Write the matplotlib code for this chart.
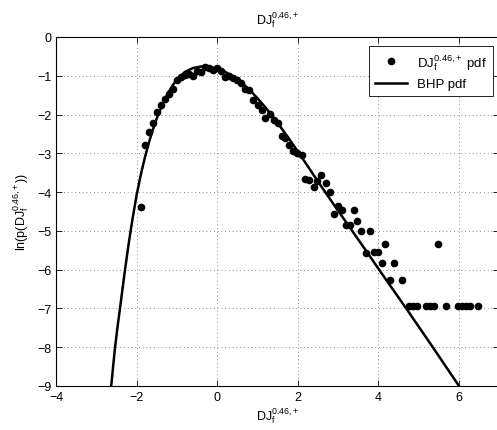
import matplotlib
matplotlib.use("Agg")
import matplotlib.pyplot as plt

# empirical pdf points (log)
dj_x = [-1.89, -1.79, -1.70, -1.60, -1.49, -1.40, -1.30, -1.19, -1.10, -1.00,
        -0.90, -0.79, -0.69, -0.59, -0.49, -0.40, -0.30, -0.20, -0.10, 0.00,
        0.10, 0.20, 0.30, 0.40, 0.50, 0.59, 0.70, 0.80, 0.90, 1.00,
        1.10, 1.19, 1.30, 1.40, 1.50, 1.60, 1.69, 1.79, 1.89, 1.99,
        2.10, 2.18, 2.29, 2.39, 2.48, 2.58, 2.69, 2.80, 2.90, 2.99,
        3.09, 3.19, 3.29, 3.39, 3.48, 3.58, 3.69, 3.78, 3.88, 3.98,
        4.08, 4.17, 4.28, 4.38, 4.58, 4.77, 4.87, 4.97, 5.17, 5.27,
        5.37, 5.47, 5.67, 5.97, 6.07, 6.17, 6.27, 6.47]
dj_lnp = [-4.38, -2.78, -2.45, -2.23, -1.94, -1.76, -1.59, -1.47, -1.33, -1.11,
          -1.03, -0.99, -0.95, -1.01, -0.87, -0.90, -0.78, -0.80, -0.86, -0.80,
          -0.87, -1.04, -1.00, -1.05, -1.12, -1.18, -1.33, -1.37, -1.62, -1.75,
          -1.88, -2.08, -1.98, -2.15, -2.22, -2.55, -2.61, -2.78, -2.95, -2.98,
          -3.04, -3.65, -3.70, -3.87, -3.72, -3.57, -3.77, -4.00, -4.56, -4.37,
          -4.45, -4.86, -4.86, -4.46, -4.75, -4.99, -5.57, -4.99, -5.55, -5.55,
          -5.84, -5.34, -6.26, -5.84, -6.26, -6.94, -6.94, -6.94, -6.94, -6.94,
          -6.94, -5.34, -6.94, -6.94, -6.94, -6.94, -6.94, -6.94]

# BHP curve
bhp_x = [-2.70, -2.63, -2.54, -2.47, -2.40, -2.30, -2.20, -2.10, -2.00, -1.90,
         -1.80, -1.70, -1.60, -1.50, -1.40, -1.30, -1.20, -1.10, -1.00, -0.80,
         -0.60, -0.40, -0.20, 0.00, 0.20, 0.40, 0.60, 0.80, 1.00, 1.20,
         1.40, 1.60, 1.80, 2.00, 2.20, 2.40, 2.70, 3.00, 3.37, 3.70,
         4.03, 4.36, 4.69, 5.35, 6.00, 6.10]
bhp_lnp = [-9.75, -9.00, -8.05, -7.45, -6.90, -6.10, -5.35, -4.68, -4.08, -3.57,
           -3.13, -2.74, -2.40, -2.10, -1.84, -1.61, -1.41, -1.24, -1.10, -0.90,
           -0.80, -0.76, -0.77, -0.82, -0.90, -1.02, -1.17, -1.36, -1.58, -1.82,
           -2.08, -2.36, -2.65, -2.95, -3.26, -3.57, -4.03, -4.48, -5.03, -5.52,
           -6.02, -6.51, -7.00, -8.00, -9.00, -9.15]

plt.rcParams.update({
    "font.family": "Liberation Sans",
    "font.size": 9,
    "mathtext.fontset": "custom",
    "mathtext.rm": "Liberation Sans",
    "mathtext.it": "Liberation Sans",
    "mathtext.default": "regular",
})

lbl = r"DJ$_f^{0.46{,}+}$"

fig = plt.figure(figsize=(4.97, 4.31), dpi=100)
ax = fig.add_axes([56 / 497, 44 / 431, 443.3 / 497, 349 / 431])

ax.plot(dj_x, dj_lnp, "o", color="black", markersize=4.5,
        label=lbl + " pdf")
ax.plot(bhp_x, bhp_lnp, "-", color="black", linewidth=1.8, label="BHP pdf")

ax.set_xlim(-4, 7)
ax.set_ylim(-9, 0)
ax.set_xticks([-4, -2, 0, 2, 4, 6])
ax.set_yticks(range(-9, 1))
ax.grid(True, color="#666666", linestyle=(0, (1, 3.5)), linewidth=0.6)
ax.tick_params(direction="in", top=True, right=True, length=4, width=0.6)
for s in ax.spines.values():
    s.set_linewidth(0.8)

ax.set_title(lbl, fontsize=9, pad=10)
ax.set_xlabel(lbl, labelpad=2)
ax.set_ylabel("ln(p(" + lbl + "))", labelpad=4)

leg = ax.legend(loc="upper right", bbox_to_anchor=(493 / 497, 1 - 47 / 431),
                bbox_transform=fig.transFigure, borderaxespad=0,
                fancybox=False, framealpha=1, edgecolor="black",
                fontsize=9.5, handlelength=2.4, borderpad=0.45,
                labelspacing=0.5)
leg.get_frame().set_linewidth(0.6)

fig.savefig("out.png", dpi=100)
plt.close(fig)
